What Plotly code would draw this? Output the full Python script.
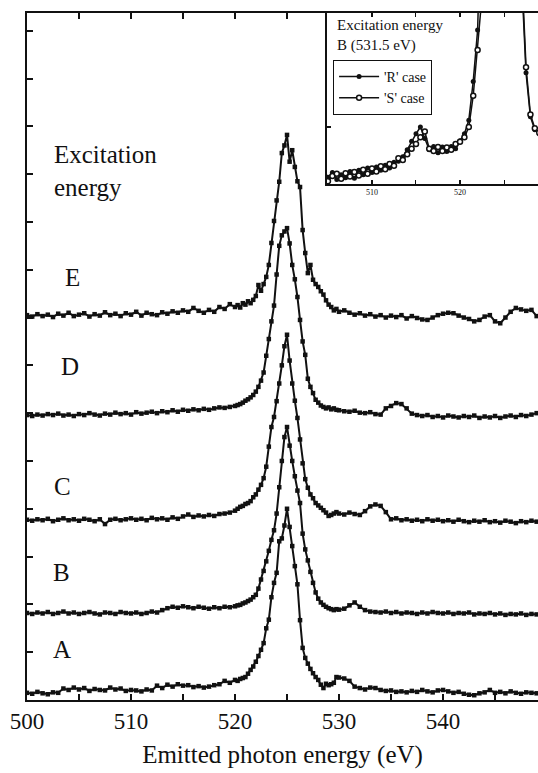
import plotly.graph_objects as go

# ---------------- data ----------------
energy = [
    500.0, 500.5, 501.0, 501.5, 502.0, 502.5, 503.0, 503.5, 504.0, 504.5,
    505.0, 505.5, 506.0, 506.5, 507.0, 507.5, 508.0, 508.5, 509.0, 509.5,
    510.0, 510.5, 511.0, 511.5, 512.0, 512.5, 513.0, 513.5, 514.0, 514.5,
    515.0, 515.5, 516.0, 516.5, 517.0, 517.5, 518.0, 518.5, 519.0, 519.5,
    520.0, 520.25, 520.5, 520.75, 521.0, 521.25, 521.5, 521.75, 522.0, 522.25,
    522.5, 522.75, 523.0, 523.25, 523.5, 523.75, 524.0, 524.25, 524.5, 524.75,
    525.0, 525.25, 525.5, 525.75, 526.0, 526.25, 526.5, 526.75, 527.0, 527.25,
    527.5, 527.75, 528.0, 528.25, 528.5, 528.75, 529.0, 529.25, 529.5, 529.75,
    530.0, 530.5, 531.0, 531.5, 532.0, 532.5, 533.0, 533.5, 534.0, 534.5,
    535.0, 535.5, 536.0, 536.5, 537.0, 537.5, 538.0, 538.5, 539.0, 539.5,
    540.0, 540.5, 541.0, 541.5, 542.0, 542.5, 543.0, 543.5, 544.0, 544.5,
    545.0, 545.5, 546.0, 546.5, 547.0, 547.5, 548.0, 548.5, 549.0,
]

spec_A = [
    0.15, 0.13, 0.17, 0.14, 0.12, 0.16, 0.15, 0.24, 0.21, 0.26,
    0.22, 0.25, 0.19, 0.23, 0.21, 0.20, 0.26, 0.22, 0.24, 0.19,
    0.21, 0.20, 0.18, 0.22, 0.20, 0.30, 0.25, 0.32, 0.28, 0.33,
    0.30, 0.31, 0.27, 0.29, 0.26, 0.28, 0.31, 0.33, 0.40, 0.36,
    0.42, 0.40, 0.44, 0.46, 0.48, 0.55, 0.63, 0.70, 0.80, 0.92,
    1.05, 1.19, 1.50, 1.68, 2.15, 2.45, 2.66, 3.32, 3.38, 3.65,
    4.00, 3.62, 3.22, 2.80, 2.42, 1.67, 1.09, 0.88, 0.76, 0.65,
    0.56, 0.48, 0.42, 0.32, 0.25, 0.34, 0.31, 0.33, 0.36, 0.48,
    0.47, 0.45, 0.40, 0.28, 0.25, 0.22, 0.26, 0.25, 0.21, 0.19,
    0.20, 0.17, 0.18, 0.16, 0.19, 0.17, 0.21, 0.18, 0.16, 0.20,
    0.21, 0.18, 0.15, 0.17, 0.13, 0.11, 0.10, 0.14, 0.16, 0.21,
    0.15, 0.17, 0.14, 0.18, 0.15, 0.13, 0.16, 0.15, 0.14,
]

spec_B = [
    1.82, 1.80, 1.83, 1.81, 1.84, 1.80, 1.82, 1.85, 1.81, 1.83,
    1.80, 1.82, 1.84, 1.81, 1.79, 1.83, 1.82, 1.80, 1.84, 1.82,
    1.81, 1.83, 1.80, 1.82, 1.85, 1.83, 1.88, 1.92, 1.95, 1.93,
    1.96, 1.94, 1.92, 1.95, 1.93, 1.91, 1.94, 1.92, 1.95, 1.94,
    1.96, 1.98, 1.99, 2.02, 2.04, 2.07, 2.10, 2.15, 2.20, 2.33,
    2.52, 2.70, 2.90, 3.12, 3.35, 3.55, 3.90, 4.45, 5.00, 5.50,
    5.71, 5.32, 5.00, 4.68, 4.38, 4.12, 3.48, 3.15, 2.92, 2.68,
    2.45, 2.25, 2.12, 2.04, 1.99, 1.95, 1.92, 1.90, 1.88, 1.90,
    1.89, 1.91, 1.98, 2.04, 1.95, 1.88, 1.85, 1.84, 1.83, 1.85,
    1.82, 1.84, 1.81, 1.83, 1.82, 1.80, 1.83, 1.81, 1.84, 1.82,
    1.81, 1.83, 1.80, 1.82, 1.81, 1.83, 1.79, 1.81, 1.80, 1.82,
    1.79, 1.81, 1.78, 1.80, 1.79, 1.81, 1.78, 1.80, 1.79,
]

spec_C = [
    3.77, 3.75, 3.78, 3.76, 3.79, 3.74, 3.77, 3.80, 3.76, 3.78,
    3.75, 3.79, 3.77, 3.74, 3.78, 3.68, 3.77, 3.79, 3.76, 3.78,
    3.80, 3.77, 3.79, 3.76, 3.81, 3.78, 3.80, 3.77, 3.82, 3.79,
    3.84, 3.88, 3.83, 3.86, 3.84, 3.87, 3.85, 3.89, 3.90, 3.92,
    3.96, 4.00, 4.04, 4.06, 4.10, 4.12, 4.16, 4.24, 4.30, 4.40,
    4.50, 4.64, 4.88, 5.30, 5.71, 5.92, 6.25, 6.62, 7.00, 7.40,
    7.64, 7.10, 6.62, 6.26, 5.90, 5.45, 4.95, 4.62, 4.44, 4.30,
    4.22, 4.12, 4.07, 4.02, 3.97, 3.92, 3.85, 3.87, 3.90, 3.93,
    3.90, 3.88, 3.92, 3.89, 3.87, 3.95, 4.05, 4.09, 4.06, 3.93,
    3.78, 3.80, 3.76, 3.78, 3.75, 3.77, 3.74, 3.78, 3.75, 3.77,
    3.74, 3.76, 3.73, 3.77, 3.74, 3.72, 3.75, 3.73, 3.76, 3.72,
    3.74, 3.71, 3.75, 3.73, 3.70, 3.74, 3.72, 3.75, 3.73,
]

spec_D = [
    5.96, 5.94, 5.97, 5.95, 5.98, 5.96, 5.99, 5.95, 5.97, 5.94,
    5.98, 5.96, 6.00, 5.97, 5.95, 5.99, 5.97, 6.01, 5.98, 6.00,
    5.97, 6.02, 5.99, 6.01, 6.03, 6.00, 6.04, 6.02, 6.06, 6.03,
    6.07, 6.05, 6.08, 6.06, 6.09, 6.07, 6.10, 6.12, 6.11, 6.13,
    6.15, 6.17, 6.19, 6.22, 6.26, 6.29, 6.33, 6.38, 6.45, 6.55,
    6.68, 6.85, 7.20, 7.55, 7.92, 8.25, 8.90, 9.50, 9.72, 9.80,
    9.87, 9.55, 9.10, 8.80, 8.43, 7.95, 7.50, 7.22, 6.72, 6.55,
    6.42, 6.28, 6.22, 6.16, 6.13, 6.10, 6.12, 6.08, 6.10, 6.07,
    6.06, 6.04, 6.03, 6.05, 6.01, 6.00, 6.02, 5.98, 5.97, 6.10,
    6.15, 6.21, 6.19, 6.10, 5.99, 5.96, 5.94, 5.96, 5.92, 5.94,
    5.91, 5.95, 5.93, 5.91, 5.94, 5.92, 5.95, 5.90, 5.93, 5.91,
    5.94, 5.90, 5.93, 5.95, 5.92, 5.96, 5.94, 5.97, 6.00,
]

spec_E = [
    8.05, 8.02, 8.07, 8.03, 8.06, 8.01, 8.08, 8.04, 8.10, 8.03,
    8.06, 8.09, 8.02, 8.07, 8.04, 8.11, 8.05, 8.08, 8.03, 8.09,
    8.06, 8.12, 8.04, 8.10, 8.07, 8.05, 8.11, 8.08, 8.13, 8.10,
    8.15, 8.12, 8.20, 8.14, 8.10, 8.16, 8.12, 8.22, 8.18, 8.28,
    8.22, 8.26, 8.21, 8.30, 8.27, 8.34, 8.30, 8.37, 8.45, 8.68,
    8.56, 8.70, 8.85, 9.10, 9.56, 10.02, 10.45, 10.84, 11.44, 11.60,
    11.82, 11.26, 11.50, 11.15, 10.85, 10.73, 9.83, 9.35, 8.93, 9.10,
    8.79, 8.70, 8.64, 8.55, 8.48, 8.36, 8.27, 8.22, 8.15, 8.18,
    8.12, 8.15, 8.10, 8.06, 8.09, 8.04, 8.07, 8.02, 8.05, 8.00,
    8.04, 8.01, 8.05, 7.98, 8.03, 7.99, 7.96, 7.95, 8.00, 8.05,
    8.08, 8.10, 8.09, 8.04, 8.00, 7.97, 7.92, 7.95, 8.02, 8.05,
    7.92, 7.88, 8.00, 8.12, 8.20, 8.17, 8.14, 8.16, 8.03,
]

spectra = [spec_A, spec_B, spec_C, spec_D, spec_E]
labels = ["A", "B", "C", "D", "E"]
label_x = [503.37, 503.27, 503.46, 504.13, 504.33]
label_y = [1.05, 2.66, 4.46, 6.97, 8.83]

inset_energy = [
    505.0, 505.5, 506.0, 506.5, 507.0, 507.5, 508.0, 508.5, 509.0, 509.5,
    510.0, 510.5, 511.0, 511.5, 512.0, 512.5, 513.0, 513.5, 514.0, 514.5,
    515.0, 515.5, 516.0, 516.5, 517.0, 517.5, 518.0, 518.5, 519.0, 519.5,
    520.0, 520.5, 521.0, 521.5, 522.0, 522.5, 523.0, 523.5, 524.0, 524.5,
    525.0, 525.5, 526.0, 526.5, 527.0, 527.5, 528.0, 528.5, 529.0,
]
inset_R = [
    0.12, 0.20, 0.08, 0.16, 0.11, 0.22, 0.10, 0.24, 0.16, 0.28,
    0.20, 0.30, 0.24, 0.33, 0.28, 0.38, 0.40, 0.48, 0.60, 0.75,
    0.88, 1.00, 0.80, 0.60, 0.66, 0.55, 0.65, 0.57, 0.66, 0.62,
    0.76, 0.88, 1.12, 1.80, 2.70, 3.80, 6.50, 11.0, 19.0, 28.0,
    33.0, 27.0, 17.0, 8.0, 3.60, 1.95, 1.18, 0.95, 0.88,
]
inset_S = [
    0.05, 0.14, 0.18, 0.09, 0.19, 0.13, 0.21, 0.15, 0.25, 0.18,
    0.27, 0.22, 0.31, 0.26, 0.35, 0.32, 0.45, 0.42, 0.52, 0.62,
    0.70, 0.82, 0.92, 0.62, 0.58, 0.65, 0.58, 0.64, 0.60, 0.70,
    0.74, 0.82, 1.00, 1.55, 2.35, 3.30, 6.00, 10.5, 18.5, 27.5,
    32.5, 27.5, 17.5, 8.5, 3.80, 2.05, 1.22, 0.98, 0.90,
]

# ---------------- figure ----------------
FONT = "Times New Roman, Liberation Serif, DejaVu Serif, serif"
INK = "#111111"

fig = go.Figure()

for y in spectra:
    fig.add_trace(go.Scatter(
        x=energy, y=y, mode="lines+markers", showlegend=False,
        line=dict(color=INK, width=2),
        marker=dict(symbol="square", size=4.5, color=INK),
        xaxis="x", yaxis="y",
    ))

fig.add_trace(go.Scatter(
    x=inset_energy, y=inset_R, mode="lines+markers", name="'R' case",
    line=dict(color=INK, width=1.5),
    marker=dict(symbol="circle", size=5, color=INK),
    xaxis="x2", yaxis="y2",
))
fig.add_trace(go.Scatter(
    x=inset_energy, y=inset_S, mode="lines+markers", name="'S' case",
    line=dict(color=INK, width=1.5),
    marker=dict(symbol="circle", size=5, color="white", line=dict(color=INK, width=1.5)),
    xaxis="x2", yaxis="y2",
))

annotations = []
for t, lx, ly in zip(labels, label_x, label_y):
    annotations.append(dict(x=lx, y=ly, xref="x", yref="y", text=t, showarrow=False,
                            xanchor="center", yanchor="middle",
                            font=dict(family=FONT, size=25, color=INK)))
annotations.append(dict(x=502.4, y=11.06, xref="x", yref="y", text="Excitation<br>energy",
                        showarrow=False, xanchor="left", yanchor="middle", align="left",
                        font=dict(family=FONT, size=25, color=INK)))
annotations.append(dict(x=505.8, y=2.61, xref="x2", yref="y2",
                        text="Excitation energy<br>B (531.5 eV)",
                        showarrow=False, xanchor="left", yanchor="middle", align="left",
                        font=dict(family=FONT, size=15, color=INK)))

axis_common = dict(showgrid=False, zeroline=False, showline=True, linecolor=INK,
                   linewidth=1.5, ticks="inside", tickcolor=INK, tickwidth=1.5)

fig.update_layout(
    width=538, height=773,
    margin=dict(l=27, r=0, t=13, b=73),
    paper_bgcolor="white", plot_bgcolor="white",
    font=dict(family=FONT, color=INK),
    xaxis=dict(**axis_common, domain=[0, 1], range=[500, 549.13], anchor="y",
               tick0=500, dtick=10, ticklen=6, mirror="ticks",
               minor=dict(ticks="inside", dtick=5, tick0=500, ticklen=6,
                          tickwidth=1.5, tickcolor=INK, showgrid=False),
               tickfont=dict(family=FONT, size=23, color=INK),
               title=dict(text="Emitted photon energy (eV)", standoff=12,
                          font=dict(family=FONT, size=25, color=INK))),
    yaxis=dict(**axis_common, domain=[0, 1], range=[0, 14.37], anchor="x",
               tick0=0, dtick=1, ticklen=6, showticklabels=False, mirror=False),
    xaxis2=dict(**axis_common, domain=[0.5871, 1], range=[504.89, 528.86], anchor="y2",
                tick0=500, dtick=10, ticklen=4, mirror="ticks",
                minor=dict(ticks="inside", dtick=5, tick0=500, ticklen=4,
                           tickwidth=1, tickcolor=INK, showgrid=False),
                tickfont=dict(family=FONT, size=8, color=INK)),
    yaxis2=dict(**axis_common, domain=[0.7511, 1], range=[0, 3], anchor="x2",
                tickvals=[1], ticklen=4, showticklabels=False, mirror=False),
    legend=dict(x=0.599, y=0.9316, xanchor="left", yanchor="top",
                bordercolor=INK, borderwidth=1, bgcolor="white",
                font=dict(family=FONT, size=14, color=INK),
                itemwidth=40, tracegroupgap=0),
    annotations=annotations,
)

fig.write_html(
    "out.html",
    config={"displayModeBar": False},
    post_script="document.body.style.margin='0';document.body.style.overflow='hidden';",
)
